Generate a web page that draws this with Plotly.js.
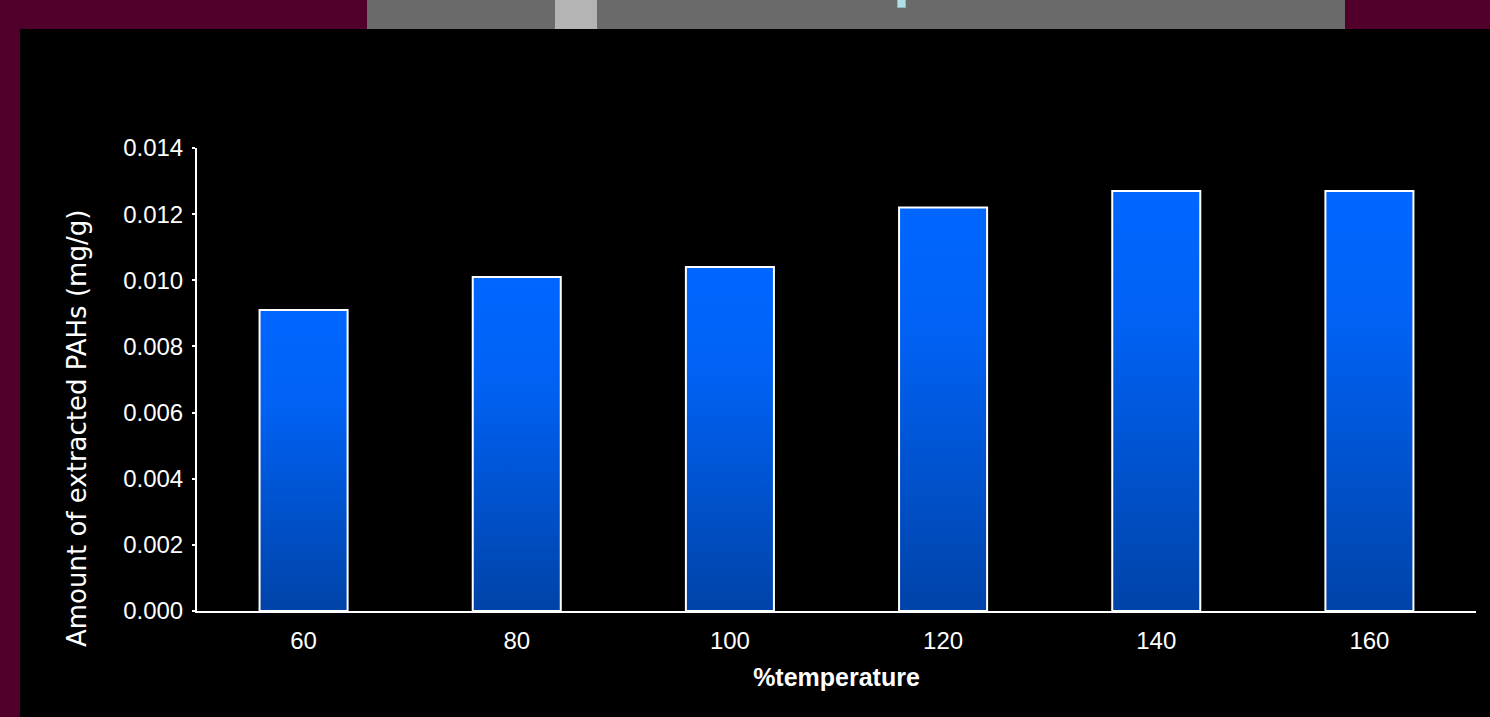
<!DOCTYPE html>
<html>
<head>
<meta charset="utf-8">
<script src="https://cdn.plot.ly/plotly-3.0.1.min.js"></script>
<style>
  html, body { margin: 0; padding: 0; background: #50002a; overflow: hidden; }
  #stage { position: relative; width: 1490px; height: 717px; background: #50002a; }
  /* slide frame behind the chart */
  .panel { position: absolute; left: 20px; top: 29px; width: 1470px; height: 688px; background: #000; }
  .band { position: absolute; left: 367px; top: 0; width: 978px; height: 29px; background: #6a6a6a; }
  .band-key { position: absolute; left: 555px; top: 0; width: 42px; height: 29px; background: #b4b4b4; }
  .band-tick { position: absolute; left: 897px; top: 0; width: 7px; height: 7px; background: #b0e0e6; border: 1px solid #8fb6bb; border-top: none; }
  #chart { position: absolute; left: 0; top: 0; width: 1490px; height: 717px; }
</style>
</head>
<body>
<div id="stage">
  <div class="panel"></div>
  <div class="band"></div>
  <div class="band-key"></div>
  <div class="band-tick"></div>
  <div id="chart"></div>
</div>
<script>
// Extraction temperature and amount of PAHs recovered
const temperatures = ['60', '80', '100', '120', '140', '160'];
const amountPAHs = [0.0091, 0.0101, 0.0104, 0.0122, 0.0127, 0.0127];
const yTicks = [0, 0.002, 0.004, 0.006, 0.008, 0.010, 0.012, 0.014];
const yTitle = 'Amount of extracted PAHs (mg/g)';
const xTitle = '%temperature';

const trace = {
  type: 'bar',
  x: temperatures,
  y: amountPAHs,
  marker: { color: '#0058dd', line: { color: '#ffffff', width: 2 } },
  hoverinfo: 'skip'
};

const font = { family: '"Liberation Sans", Arial, sans-serif', color: '#ffffff', size: 24 };

const margin = { l: 197, r: 14, t: 148, b: 106 };
const plotW = 1490 - margin.l - margin.r;
const plotH = 717 - margin.t - margin.b;

const layout = {
  width: 1490,
  height: 717,
  paper_bgcolor: 'rgba(0,0,0,0)',
  plot_bgcolor: 'rgba(0,0,0,0)',
  margin: Object.assign({ pad: 0 }, margin),
  bargap: 0.587,
  showlegend: false,
  font: font,
  xaxis: {
    type: 'category',
    showline: true,
    linecolor: '#ffffff',
    linewidth: 2,
    showgrid: false,
    zeroline: false,
    ticks: '',
    ticklabelstandoff: 7,
    tickfont: font,
    title: {
      text: xTitle,
      font: { family: '"Liberation Sans", Arial, sans-serif', size: 25, color: '#ffffff', weight: 'bold' },
      standoff: 16
    }
  },
  yaxis: {
    range: [0, 0.014],
    tickvals: yTicks,
    tickformat: '.3f',
    showline: true,
    linecolor: '#ffffff',
    linewidth: 2,
    showgrid: false,
    zeroline: false,
    ticks: 'outside',
    ticklen: 3,
    tickwidth: 2,
    tickcolor: '#ffffff',
    ticklabelstandoff: 4,
    tickfont: font
  },
  annotations: [{
    text: yTitle,
    textangle: -90,
    xref: 'paper', yref: 'paper',
    x: (77 - margin.l) / plotW,
    y: (717 - margin.b - 429) / plotH,
    xanchor: 'center', yanchor: 'middle',
    showarrow: false,
    font: { family: '"DejaVu Sans", Verdana, sans-serif', size: 26, color: '#ffffff' }
  }]
};

Plotly.newPlot('chart', [trace], layout, { staticPlot: true, displayModeBar: false }).then(function (gd) {
  // vertical blue gradient on every bar
  const svg = gd.querySelector('svg.main-svg');
  const ns = 'http://www.w3.org/2000/svg';
  let defs = svg.querySelector('defs');
  if (!defs) { defs = document.createElementNS(ns, 'defs'); svg.insertBefore(defs, svg.firstChild); }
  const grad = document.createElementNS(ns, 'linearGradient');
  grad.setAttribute('id', 'barFill');
  grad.setAttribute('x1', '0'); grad.setAttribute('y1', '0');
  grad.setAttribute('x2', '0'); grad.setAttribute('y2', '1');
  [['0', '#0066ff'], ['0.3', '#0062f5'], ['1', '#0043a8']].forEach(function (s) {
    const stop = document.createElementNS(ns, 'stop');
    stop.setAttribute('offset', s[0]);
    stop.setAttribute('stop-color', s[1]);
    grad.appendChild(stop);
  });
  defs.appendChild(grad);
  gd.querySelectorAll('.barlayer .point path').forEach(function (p) {
    p.style.fill = 'url(#barFill)';
  });
});
</script>
</body>
</html>
